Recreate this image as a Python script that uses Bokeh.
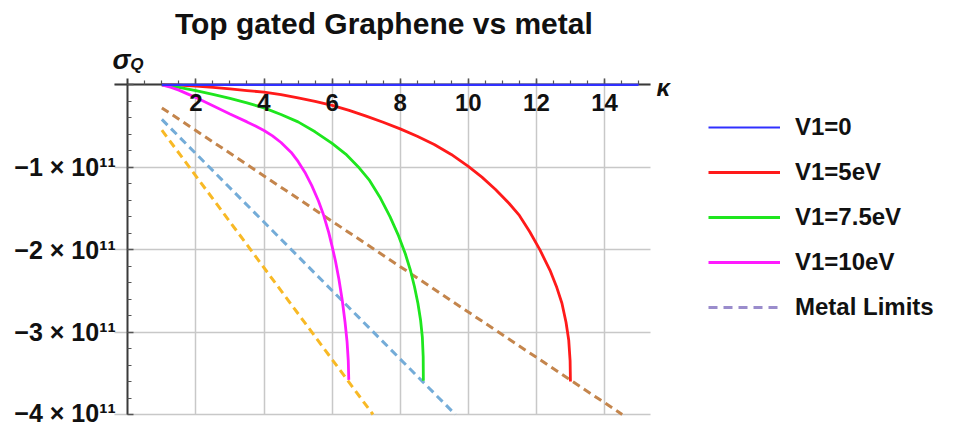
from bokeh.plotting import figure
from bokeh.models import Label, Legend, LegendItem, FixedTicker, Range1d
from bokeh.embed import file_html
from bokeh.resources import INLINE

SCALE = 1e11  # sigma values below are in units of 1e11
NAN = float("nan")

# V1 = 0
kappa_v0 = [1.0, 15.0]
sigma_v0 = [0.0, 0.0]

# V1 = 5 eV
kappa_v5 = [1.0, 1.5, 2.0, 2.5, 3.0, 3.5, 4.0, 4.5, 5.0, 5.5, 6.0, 6.5, 7.0, 7.5, 8.0, 8.5, 9.0, 9.5,
            10.0, 10.4, 10.8, 11.2, 11.5, 11.8, 12.1, 12.4, 12.6, 12.75, 12.87, 12.95, 12.99, 13.0]
sigma_v5 = [0.0, -0.005, -0.015, -0.03, -0.05, -0.07, -0.09, -0.12, -0.16, -0.20, -0.25, -0.31, -0.38,
            -0.455, -0.535, -0.625, -0.725, -0.845, -0.99, -1.12, -1.27, -1.44, -1.585, -1.78, -2.0,
            -2.25, -2.46, -2.65, -2.88, -3.10, -3.35, -3.60]

# V1 = 7.5 eV
kappa_v75 = [1.0, 1.5, 2.0, 2.5, 3.0, 3.5, 4.0, 4.5, 5.0, 5.5, 6.0, 6.4, 6.8, 7.1, 7.4, 7.7, 7.95,
             8.15, 8.3, 8.42, 8.52, 8.6, 8.65, 8.675, 8.68]
sigma_v75 = [0.0, -0.03, -0.07, -0.115, -0.165, -0.22, -0.28, -0.36, -0.45, -0.57, -0.71, -0.84,
             -1.01, -1.16, -1.36, -1.60, -1.83, -2.05, -2.25, -2.45, -2.65, -2.86, -3.06, -3.30, -3.59]

# V1 = 10 eV
kappa_v10 = [1.0, 1.25, 1.5, 1.75, 2.0, 2.5, 3.0, 3.5, 3.75, 4.0, 4.25, 4.5, 4.8, 5.0, 5.2, 5.4, 5.6,
             5.75, 5.9, 6.0, 6.1, 6.2, 6.3, 6.38, 6.44, 6.475, 6.49]
sigma_v10 = [0.0, -0.03, -0.065, -0.11, -0.155, -0.255, -0.355, -0.45, -0.50, -0.555, -0.62, -0.70,
             -0.82, -0.93, -1.06, -1.22, -1.41, -1.58, -1.79, -1.96, -2.14, -2.36, -2.62, -2.88,
             -3.12, -3.35, -3.58]

# Metal limits (straight lines, shown until the bottom of the plot range)
kappa_m5 = [1.0, 14.52]
sigma_m5 = [-0.28, -4.0]
kappa_m75 = [1.0, 9.62]
sigma_m75 = [-0.42, -4.0]
kappa_m10 = [1.0, 7.2]
sigma_m10 = [-0.55, -4.0]

x_major = [2, 4, 6, 8, 10, 12, 14]
x_minor = [0.5 * i for i in range(1, 31)]
y_major = [-4, -3, -2, -1, 0]
y_minor = [-4 + 0.2 * i for i in range(0, 21)]
y_labels = {-4: "\u22124 \u00d7 10\u00b9\u00b9", -3: "\u22123 \u00d7 10\u00b9\u00b9",
            -2: "\u22122 \u00d7 10\u00b9\u00b9", -1: "\u22121 \u00d7 10\u00b9\u00b9", 0: ""}

legend_labels = ["V1=0", "V1=5eV", "V1=7.5eV", "V1=10eV", "Metal Limits"]

# plotted region (as in the reference) and whole-canvas view ranges
X_LO, X_HI = -0.39, 15.35
Y_LO, Y_HI = -4.0, 0.076

FONT = "Liberation Sans"


def sc(vals):
    return [v * SCALE for v in vals]


p = figure(width=950, height=426, output_backend="svg", toolbar_location=None,
           x_range=Range1d(-3.739, 24.162), y_range=Range1d(-4.1454 * SCALE, 1.0227 * SCALE),
           min_border_left=0, min_border_right=0, min_border_top=0, min_border_bottom=0)
p.title.visible = False
p.outline_line_color = None

# axes crossing at origin
for ax in (p.xaxis[0], p.yaxis[0]):
    ax.fixed_location = 0
    ax.axis_line_color = "#3a3a3a"
    ax.axis_line_width = 2
    ax.major_tick_line_color = "#555555"
    ax.minor_tick_line_color = "#555555"
    ax.major_tick_line_width = 1.5
    ax.minor_tick_line_width = 1.2
    ax.major_tick_in = 6
    ax.major_tick_out = 0
    ax.minor_tick_in = 4
    ax.minor_tick_out = 0
    ax.major_label_text_font = FONT
    ax.major_label_text_font_style = "bold"
    ax.major_label_text_font_size = "24px"
    ax.major_label_text_color = "#111111"

p.xaxis[0].bounds = (X_LO, X_HI)
p.yaxis[0].bounds = (Y_LO * SCALE, Y_HI * SCALE)
p.xaxis[0].ticker = FixedTicker(ticks=x_major, minor_ticks=x_minor)
p.xaxis[0].major_label_standoff = 9
p.yaxis[0].ticker = FixedTicker(ticks=sc(y_major), minor_ticks=sc(y_minor))
p.yaxis[0].major_label_overrides = {float(k * SCALE): v for k, v in y_labels.items()}
p.yaxis[0].major_label_standoff = 12
p.yaxis[0].major_label_text_font_size = "25px"

GRID_COLOR = "#c8c8c8"
try:
    p.xgrid[0].ticker = FixedTicker(ticks=x_major)
    p.ygrid[0].ticker = FixedTicker(ticks=sc(y_major))
    p.xgrid[0].cross_bounds = (Y_LO * SCALE, Y_HI * SCALE)
    p.ygrid[0].cross_bounds = (X_LO, X_HI)
    for g in (p.xgrid[0], p.ygrid[0]):
        g.grid_line_color = GRID_COLOR
        g.grid_line_width = 1.5
except AttributeError:
    p.xgrid.visible = False
    p.ygrid.visible = False
    p.segment(x0=x_major, x1=x_major, y0=[Y_LO * SCALE] * len(x_major), y1=[Y_HI * SCALE] * len(x_major),
              line_color=GRID_COLOR, line_width=1.5)
    p.segment(x0=[X_LO] * len(y_major), x1=[X_HI] * len(y_major), y0=sc(y_major), y1=sc(y_major),
              line_color=GRID_COLOR, line_width=1.5)

# metal limits
dash = "8 5"
p.line(kappa_m5, sc(sigma_m5), line_color="#c4854c", line_width=3, line_dash=dash)
p.line(kappa_m75, sc(sigma_m75), line_color="#74acd8", line_width=3, line_dash=dash)
p.line(kappa_m10, sc(sigma_m10), line_color="#f8b925", line_width=3, line_dash=dash)

r_v5 = p.line(kappa_v5, sc(sigma_v5), line_color="#ff1a1a", line_width=2.8)
r_v75 = p.line(kappa_v75, sc(sigma_v75), line_color="#1ee61e", line_width=2.8)
r_v10 = p.line(kappa_v10, sc(sigma_v10), line_color="#ff1aff", line_width=2.8)
r_v0 = p.line(kappa_v0, sc(sigma_v0), line_color="#3030ff", line_width=2.2, level="overlay")
# legend-only entry for the metal limits (no data drawn)
r_metal = p.line([NAN, NAN], [NAN, NAN], line_color="#9a8ccc", line_width=3, line_dash="9 6")

legend = Legend(
    items=[LegendItem(label=legend_labels[0], renderers=[r_v0]),
           LegendItem(label=legend_labels[1], renderers=[r_v5]),
           LegendItem(label=legend_labels[2], renderers=[r_v75]),
           LegendItem(label=legend_labels[3], renderers=[r_v10]),
           LegendItem(label=legend_labels[4], renderers=[r_metal])],
    location=(708, 105),
    label_text_font=FONT, label_text_font_style="bold", label_text_font_size="24px",
    label_text_color="#111111",
    glyph_width=72, glyph_height=28, label_height=28, spacing=17, padding=0, margin=0,
    label_standoff=15, border_line_color=None, background_fill_alpha=0,
)
p.add_layout(legend)

# title and axis labels
p.add_layout(Label(x=7.52, y=0.745 * SCALE, text="Top gated Graphene vs metal",
                   text_align="center", text_baseline="alphabetic", text_font=FONT,
                   text_font_style="bold", text_font_size="30px", text_color="#111111"))
p.add_layout(Label(x=-0.45, y=0.30 * SCALE, text="\u03c3", text_align="left",
                   text_baseline="alphabetic", text_font=FONT, text_font_style="bold italic",
                   text_font_size="27px", text_color="#111111"))
p.add_layout(Label(x=0.07, y=0.245 * SCALE, text="Q", text_align="left",
                   text_baseline="alphabetic", text_font=FONT, text_font_style="bold italic",
                   text_font_size="17px", text_color="#111111"))
p.add_layout(Label(x=15.53, y=-0.03 * SCALE, text="\u03ba", text_align="left",
                   text_baseline="alphabetic", text_font=FONT, text_font_style="bold italic",
                   text_font_size="24px", text_color="#111111"))

open("out.html", "w").write(file_html(p, INLINE))
